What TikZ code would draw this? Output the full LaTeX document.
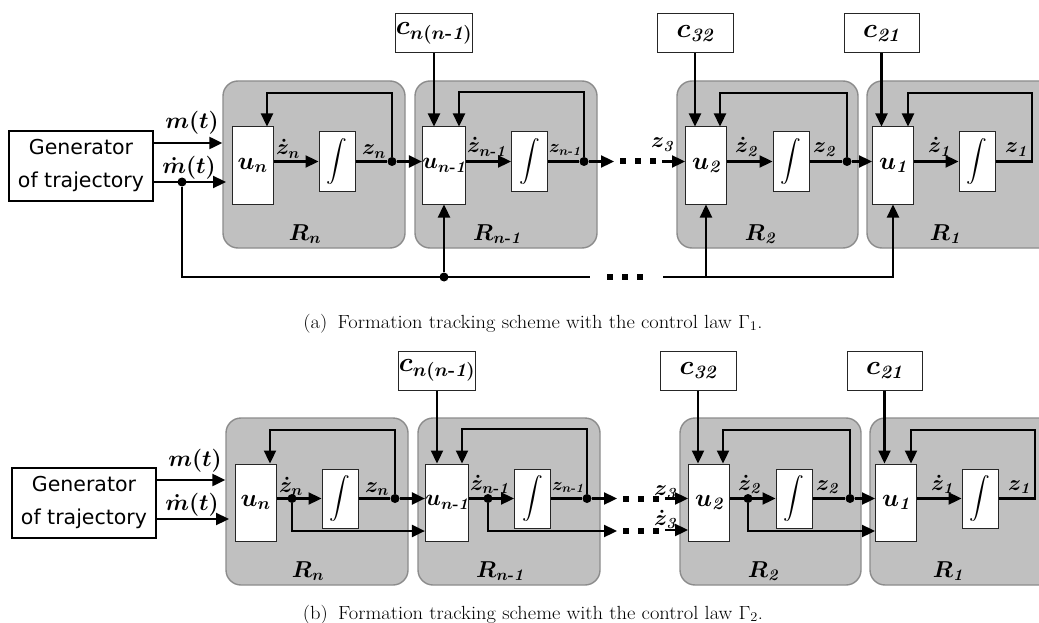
\RequirePackage{fix-cm}
\documentclass[tikz,border=0pt]{standalone}
\usepackage{amsmath}
\usepackage{fontspec}
\newfontfamily\genfont{DejaVu Sans}
\usetikzlibrary{arrows.meta,calc}
\definecolor{regfill}{RGB}{192,192,192}
\definecolor{regline}{RGB}{140,140,140}
\newcommand\BM[1]{\mbox{\boldmath$#1$}}
\newcommand\bi[1]{\text{\bfseries\itshape #1}}
\newcommand\mfont{\fontsize{23}{26}\selectfont}
\newcommand\ufont{\fontsize{25}{28}\selectfont}
\newcommand\sfont{\fontsize{22}{24}\selectfont}
\newcommand\ssfont{\fontsize{18}{20}\selectfont}
\newcommand\cfont{\fontsize{27}{29}\selectfont}
\newcommand\capfont{\fontsize{19}{22}\selectfont}
\newcommand\nmo{n\text{\bfseries -}\bi{1}}
\newcommand\intsym{\fontsize{19.5}{22}\selectfont$\displaystyle\int$}

\newcommand\stagecommon[1]{%
 \node[region, minimum width=182pt, minimum height=167pt] (#1Rn) at (314,164.5) {};
 \node[region, minimum width=182pt, minimum height=167pt] (#1Rm) at (506,164.5) {};
 \node[region, minimum width=181pt, minimum height=167pt] (#1Rtwo) at (767.5,164.5) {};
 \node[region, minimum width=198pt, minimum height=167pt] (#1Rone) at (966,164.5) {};
 \node[lab, anchor=base] (#1Rnl) at (305,240) {\BM{R_n}};
 \node[lab, anchor=base] (#1Rml) at (497,240) {\BM{R_{\nmo}}};
 \node[lab, anchor=base] (#1Rtwol) at (760,240) {\BM{R_{\bi{2}}}};
 \node[lab, anchor=base] (#1Ronel) at (945,240) {\BM{R_{\bi{1}}}};
 \node[gen] (#1gen) at (81,166) {Generator\\of trajectory};
 \node[ublk] (#1un) at (252.5,165.5) {\BM{u_n}};
 \node[ublk, font=\mfont] (#1um) at (444,165.5) {\BM{u_{\nmo}}};
 \node[ublk] (#1utwo) at (706,165.5) {\BM{u_{\bi{2}}}};
 \node[ublk] (#1uone) at (893,165.5) {\BM{u_{\bi{1}}}};
 \node[iblk] (#1in) at (337,161.5) {\intsym};
 \node[iblk] (#1im) at (529.5,161.5) {\intsym};
 \node[iblk] (#1itwo) at (791,161.5) {\intsym};
 \node[iblk] (#1ione) at (977,161.5) {\intsym};
 \node[cblk] (#1cn) at (434,33.5) {\BM{c_{n(\nmo)}}};
 \node[cblk] (#1ctwo) at (695,33.5) {\BM{c_{\bi{32}}}};
 \node[cblk, minimum width=75pt] (#1cone) at (881.5,33.5) {\BM{c_{\bi{21}}}};
 % generator outputs
 \coordinate (#1mA) at (0,143);
 \coordinate (#1mBe) at (226,182);
 \draw[arr] (#1gen.east |- #1mA) -- (#1Rn.west |- #1mA);
 \draw[arr] (#1gen.east |- #1mBe) -- (#1mBe);
 \node[lab, anchor=base] (#1mAl) at (192,129) {\BM{m(t)}};
 \node[lab, anchor=base] (#1mBl) at (189,173) {\BM{\dot m(t)}};
 % signal labels
 \node[slab] (#1lzdn) at (276,155) {\BM{\dot z_n}};
 \node[slab] (#1lzn) at (362,155) {\BM{z_n}};
 \node[slab] (#1lzdm) at (467,153) {\BM{\dot z_{\nmo}}};
 \node[slab, font=\ssfont] (#1lzm) at (549,153) {\BM{z_{\nmo}}};
 \node[slab] (#1lzdtwo) at (735,153) {\BM{\dot z_{\bi{2}}}};
 \node[slab] (#1lztwo) at (813,153) {\BM{z_{\bi{2}}}};
 \node[slab] (#1lzdone) at (928,153) {\BM{\dot z_{\bi{1}}}};
 \node[slab] (#1lzone) at (1005,153) {\BM{z_{\bi{1}}}};
 % stage n
 \draw[arr] (#1un.east |- #1in) -- (#1in.west);
 \node[jdot] (#1dn) at (392,161.5) {};
 \draw[sig] (#1in.east) -- (#1dn);
 \draw[arr] (#1dn) -- (#1dn -| #1um.west);
 \coordinate (#1fbn) at (267,93);
 \draw[arr] (#1dn) |- (#1fbn) -- (#1fbn |- #1un.north);
 % stage n-1
 \draw[arr] (#1cn.south) -- (#1cn.south |- #1um.north);
 \draw[arr] (#1um.east |- #1im) -- (#1im.west);
 \node[jdot] (#1dm) at (584,161.5) {};
 \draw[sig] (#1im.east) -- (#1dm);
 \coordinate (#1fbm) at (459,92);
 \draw[arr] (#1dm) |- (#1fbm) -- (#1fbm |- #1um.north);
 \coordinate (#1zo) at (614,161.5);
 \draw[arr] (#1dm) -- (#1zo);
 \draw[sqdots] (620,161.5) -- (657,161.5);
 \coordinate (#1zi) at (662,161.5);
 \draw[arr] (#1zi) -- (#1zi -| #1utwo.west);
 % stage 2
 \draw[arr] (#1ctwo.south) -- (#1ctwo.south |- #1utwo.north);
 \draw[arr] (#1utwo.east |- #1itwo) -- (#1itwo.west);
 \node[jdot] (#1dtwo) at (847,161.5) {};
 \draw[sig] (#1itwo.east) -- (#1dtwo);
 \coordinate (#1fbtwo) at (720,93);
 \draw[arr] (#1dtwo) |- (#1fbtwo) -- (#1fbtwo |- #1utwo.north);
 \draw[arr] (#1dtwo) -- (#1dtwo -| #1uone.west);
 % stage 1
 \draw[arr] (#1cone.south) -- (#1cone.south |- #1uone.north);
 \draw[arr] (#1uone.east |- #1ione) -- (#1ione.west);
 \coordinate (#1zone) at (1032,161.5);
 \coordinate (#1fbone) at (908,93);
 \draw[arr] (#1ione.east) -- (#1zone) |- (#1fbone) -- (#1fbone |- #1uone.north);
}

\begin{document}
\begin{tikzpicture}[x=1pt,y=-1pt,
 region/.style={draw=regline, fill=regfill, rounded corners=15pt, line width=1.4pt, inner sep=0pt},
 blk/.style={draw=black!85, fill=white, line width=1pt, inner sep=0pt},
 gen/.style={draw=black, fill=white, line width=1.3pt, inner sep=0pt, minimum width=144pt, minimum height=70pt, align=center, font=\genfont\fontsize{20.5}{33}\selectfont},
 ublk/.style={blk, minimum width=41pt, minimum height=77pt, font=\ufont},
 iblk/.style={blk, minimum width=36pt, minimum height=59pt},
 cblk/.style={blk, minimum width=76pt, minimum height=39pt, font=\cfont},
 sig/.style={line width=2.3pt},
 arr/.style={sig, -{Triangle[length=13pt,width=12pt]}},
 jdot/.style={circle, fill=black, inner sep=0pt, minimum size=9pt},
 sqdots/.style={line width=6pt, dash pattern=on 6pt off 9pt},
 lab/.style={inner sep=0pt, font=\mfont},
 slab/.style={inner sep=0pt, font=\sfont, anchor=base west},
 captxt/.style={font=\capfont, anchor=base, inner sep=0pt},
]
\useasboundingbox (0,0) rectangle (1039,623);
\clip (0,0) rectangle (1039,623);

% ---------- (a) ----------
\stagecommon{a}
\node[jdot] (aMd) at (182,182) {};
\coordinate (aB1) at (590,277);
\draw[sig] (aMd) |- (aB1);
\node[jdot] (aBm) at (444,277) {};
\draw[arr] (aBm) -- (aum.south);
\draw[sqdots] (607,277) -- (643,277);
\coordinate (aB2) at (663,277);
\draw[arr] (aB2) -| (auone.south);
\draw[arr] (autwo.south |- aB2) -- (autwo.south);
\node[slab] (az3) at (651,148) {\BM{z_{\bi{3}}}};

\node[captxt] (capa) at (533,328)
  {\scalebox{1.08}[1]{(a)\enspace Formation tracking scheme with the control law $\Gamma_1$.}};

% ---------- (b) ----------
\begin{scope}[shift={(3,337)}]
\stagecommon{b}
\node[jdot] (bdzn) at (289,161.5) {};
\coordinate (bbr) at (0,194);
\draw[arr] (bdzn) |- (bum.west |- bbr);
\node[jdot] (bdzm) at (485,161.5) {};
\coordinate (bbo) at (614,194);
\draw[arr] (bdzm) |- (bbo);
\draw[sqdots] (620,194) -- (657,194);
\coordinate (bbi) at (662,193);
\draw[arr] (bbi) -- (bbi -| butwo.west);
\node[jdot] (bdztwo) at (745,161.5) {};
\draw[arr] (bdztwo) |- (buone.west |- bbr);
\node[slab] (bz3) at (651,158) {\BM{z_{\bi{3}}}};
\node[slab] (bzd3) at (651,188) {\BM{\dot z_{\bi{3}}}};
\end{scope}

\node[captxt] (capb) at (533,619)
  {\scalebox{1.08}[1]{(b)\enspace Formation tracking scheme with the control law $\Gamma_2$.}};
\end{tikzpicture}
\end{document}
